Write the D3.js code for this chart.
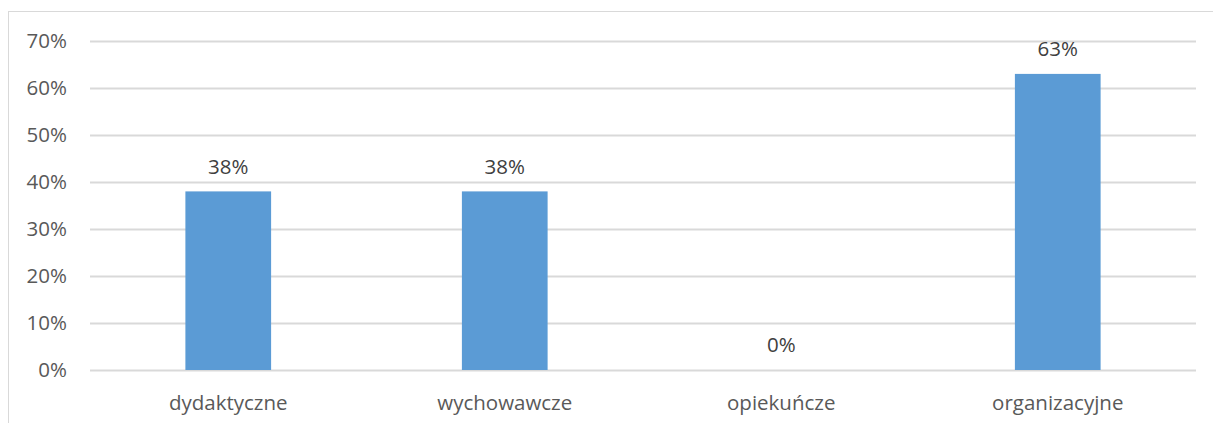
<!DOCTYPE html>
<html>
<head>
<meta charset="utf-8">
<script src="https://cdn.jsdelivr.net/npm/d3@7"></script>
<style>
  body { margin: 0; background: #fff; }
  svg { display: block; font-family: "Open Sans", "DejaVu Sans", sans-serif; }
</style>
</head>
<body>
<svg id="chart"></svg>
<script>
// dane wykresu
const categories = ["dydaktyczne", "wychowawcze", "opiekuńcze", "organizacyjne"];
const values = [0.38, 0.38, 0, 0.63];
const yTicks = [0, 0.1, 0.2, 0.3, 0.4, 0.5, 0.6, 0.7];

const width = 1213, height = 423;
const margin = { top: 41, right: 17, bottom: 53, left: 90 };
const fontSize = 20.5;

const svg = d3.select("#chart").attr("width", width).attr("height", height);

// ramka wykresu
svg.append("rect")
  .attr("x", 8.5).attr("y", 11.5)
  .attr("width", width + 10).attr("height", height + 10)
  .attr("fill", "none").attr("stroke", "#d9d9d9").attr("stroke-width", 1);

const x = d3.scaleBand()
  .domain(categories)
  .range([margin.left, width - margin.right])
  .paddingInner(0.69).paddingOuter(0.345);

const y = d3.scaleLinear()
  .domain([0, 0.7])
  .range([height - margin.bottom, margin.top]);

// linie siatki
svg.append("g")
  .selectAll("line")
  .data(yTicks)
  .enter()
  .append("line")
  .attr("x1", margin.left).attr("x2", width - margin.right)
  .attr("y1", d => Math.round(y(d)) + 0.5).attr("y2", d => Math.round(y(d)) + 0.5)
  .attr("stroke", "#d9d9d9").attr("stroke-width", 2);

// etykiety osi Y
svg.append("g")
  .selectAll("text")
  .data(yTicks)
  .enter()
  .append("text")
  .attr("x", 67).attr("y", d => y(d))
  .attr("dy", "0.35em")
  .attr("text-anchor", "end")
  .attr("fill", "#595959")
  .attr("font-size", fontSize)
  .text(d3.format(".0%"));

// słupki
svg.append("g")
  .selectAll("rect")
  .data(values)
  .enter()
  .append("rect")
  .attr("x", (d, i) => x(categories[i]))
  .attr("y", d => y(d))
  .attr("width", x.bandwidth())
  .attr("height", d => y(0) - y(d))
  .attr("fill", "#5b9bd5");

// etykiety wartości
svg.append("g")
  .selectAll("text")
  .data(values)
  .enter()
  .append("text")
  .attr("x", (d, i) => x(categories[i]) + x.bandwidth() / 2)
  .attr("y", d => y(d) - 25)
  .attr("dy", "0.35em")
  .attr("text-anchor", "middle")
  .attr("fill", "#404040")
  .attr("font-size", fontSize)
  .text(d3.format(".0%"));

// etykiety kategorii
svg.append("g")
  .selectAll("text")
  .data(categories)
  .enter()
  .append("text")
  .attr("x", d => x(d) + x.bandwidth() / 2)
  .attr("y", height - margin.bottom + 33)
  .attr("dy", "0.35em")
  .attr("text-anchor", "middle")
  .attr("fill", "#595959")
  .attr("font-size", fontSize)
  .text(d => d);
</script>
</body>
</html>
